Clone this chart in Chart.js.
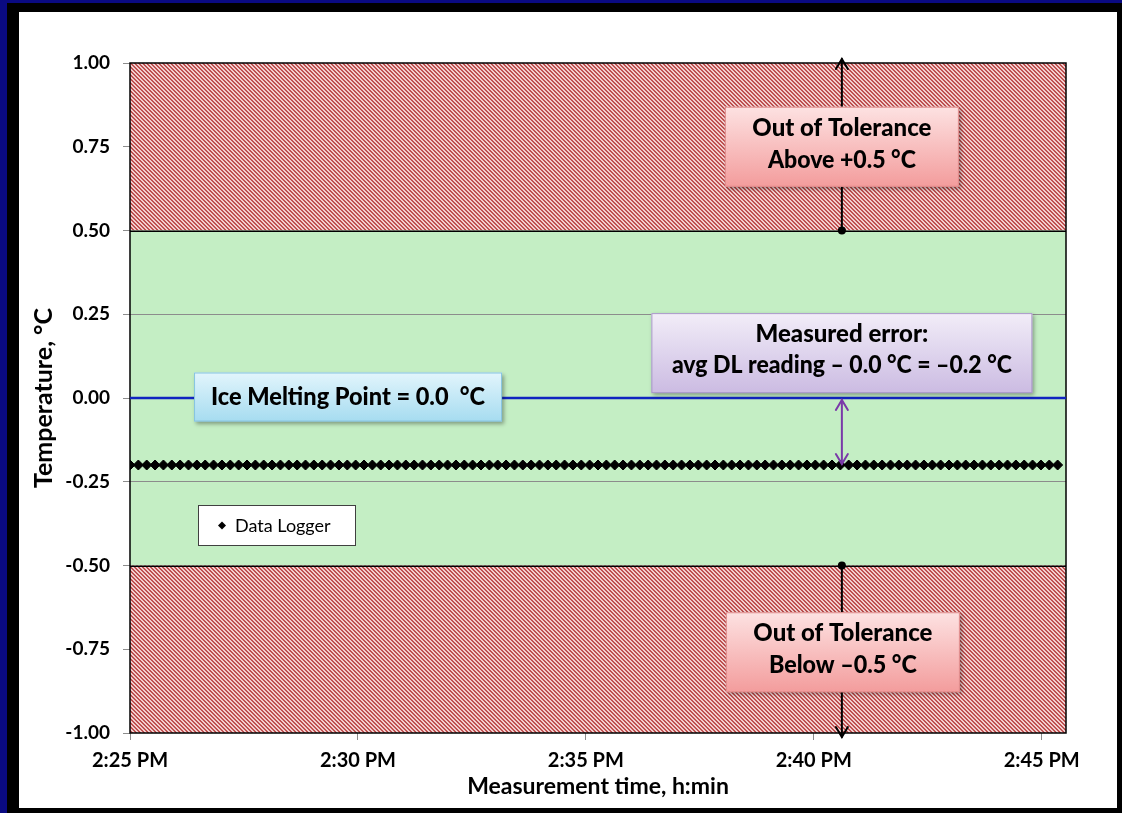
<!DOCTYPE html>
<html lang="en">
<head>
<meta charset="UTF-8">
<title>Data Logger vs Ice Melting Point</title>
<script src="https://cdn.jsdelivr.net/npm/chart.js"></script>
<style>
  html, body { margin: 0; padding: 0; }
  body { width: 1122px; height: 813px; background: #0a0a82; position: relative; overflow: hidden; }
  .frame { position: absolute; left: 7px; top: 3px; width: 1115px; height: 810px; background: #000; }
  .panel { position: absolute; left: 19px; top: 12px; width: 1098px; height: 796px; background: #fff; }
</style>
</head>
<body>
<div class="frame"></div>
<div class="panel"><canvas id="chart" width="1098" height="796"></canvas></div>
<script>
// time axis: seconds after 2:25:00 PM
const startSec = 14 * 3600 + 25 * 60;
const xMax = 1232;
const xTickSec = [0, 300, 600, 900, 1200];
const yTicks = [1.0, 0.75, 0.5, 0.25, 0.0, -0.25, -0.5, -0.75, -1.0];

// data logger readings
const loggerSec = [
  0, 11, 22, 33, 44, 55, 66, 77, 88, 99,
  110, 121, 132, 143, 154, 165, 176, 187, 198, 209,
  220, 231, 242, 253, 264, 275, 286, 297, 308, 319,
  330, 341, 352, 363, 374, 385, 396, 407, 418, 429,
  440, 451, 462, 473, 484, 495, 506, 517, 528, 539,
  550, 561, 572, 583, 594, 605, 616, 627, 638, 649,
  660, 671, 682, 693, 704, 715, 726, 737, 748, 759,
  770, 781, 792, 803, 814, 825, 836, 847, 858, 869,
  880, 891, 902, 913, 924, 935, 946, 957, 968, 979,
  990, 1001, 1012, 1023, 1034, 1045, 1056, 1067, 1078, 1089,
  1100, 1111, 1122, 1133, 1144, 1155, 1166, 1177, 1188, 1199,
  1210, 1221
];
const loggerTemp = [
  -0.2, -0.2, -0.2, -0.2, -0.2, -0.2, -0.2, -0.2, -0.2, -0.2,
  -0.2, -0.2, -0.2, -0.2, -0.2, -0.2, -0.2, -0.2, -0.2, -0.2,
  -0.2, -0.2, -0.2, -0.2, -0.2, -0.2, -0.2, -0.2, -0.2, -0.2,
  -0.2, -0.2, -0.2, -0.2, -0.2, -0.2, -0.2, -0.2, -0.2, -0.2,
  -0.2, -0.2, -0.2, -0.2, -0.2, -0.2, -0.2, -0.2, -0.2, -0.2,
  -0.2, -0.2, -0.2, -0.2, -0.2, -0.2, -0.2, -0.2, -0.2, -0.2,
  -0.2, -0.2, -0.2, -0.2, -0.2, -0.2, -0.2, -0.2, -0.2, -0.2,
  -0.2, -0.2, -0.2, -0.2, -0.2, -0.2, -0.2, -0.2, -0.2, -0.2,
  -0.2, -0.2, -0.2, -0.2, -0.2, -0.2, -0.2, -0.2, -0.2, -0.2,
  -0.2, -0.2, -0.2, -0.2, -0.2, -0.2, -0.2, -0.2, -0.2, -0.2,
  -0.2, -0.2, -0.2, -0.2, -0.2, -0.2, -0.2, -0.2, -0.2, -0.2,
  -0.2, -0.2
];

// reference line
const iceSec = [0, 1232];
const iceTemp = [0.0, 0.0];

// tolerance bands
const bandLow = [0.5, -0.5, -1.0];
const bandHigh = [1.0, 0.5, -0.5];
const bandInside = [false, true, false];

// arrows
const arrowSec = 937;
const upperArrow = [0.5, 1.0];
const lowerArrow = [-0.5, -1.0];
const errorArrow = [0.0, -0.2];

const FONT = 'Lato, "Open Sans", sans-serif';

function formatTime(v) {
  const t = startSec + v;
  let h = Math.floor(t / 3600);
  const m = Math.floor((t % 3600) / 60);
  const suffix = h >= 12 ? 'PM' : 'AM';
  h = h % 12 || 12;
  return h + ':' + String(m).padStart(2, '0') + ' ' + suffix;
}

function hatchPattern(ctx) {
  const tile = document.createElement('canvas');
  tile.width = 4; tile.height = 4;
  const tctx = tile.getContext('2d');
  const img = tctx.createImageData(4, 4);
  for (let y = 0; y < 4; y++) {
    for (let x = 0; x < 4; x++) {
      const dark = ((x - y + 8) % 4) < 2;
      const i = (y * 4 + x) * 4;
      img.data[i] = dark ? 190 : 242;
      img.data[i + 1] = dark ? 80 : 206;
      img.data[i + 2] = dark ? 80 : 206;
      img.data[i + 3] = 255;
    }
  }
  tctx.putImageData(img, 0, 0);
  return ctx.createPattern(tile, 'repeat');
}

function arrowHead(ctx, x, y, dir) {
  // dir = -1 points up, +1 points down
  ctx.beginPath();
  ctx.moveTo(x - 6, y - dir * 10);
  ctx.lineTo(x, y);
  ctx.lineTo(x + 6, y - dir * 10);
  ctx.stroke();
}

function drawBox(ctx, cx, cy, w, h, lines, offsets, widths, top, bottom, border) {
  const x = cx - w / 2, y = cy - h / 2;
  ctx.save();
  const g = ctx.createLinearGradient(0, y, 0, y + h);
  g.addColorStop(0, top);
  g.addColorStop(1, bottom);
  ctx.shadowColor = 'rgba(0,0,0,0.35)';
  ctx.shadowBlur = 4;
  ctx.shadowOffsetX = 2;
  ctx.shadowOffsetY = 2;
  ctx.fillStyle = g;
  ctx.fillRect(x, y, w, h);
  ctx.shadowColor = 'transparent';
  ctx.strokeStyle = border;
  ctx.lineWidth = 1;
  ctx.strokeRect(x + 0.5, y + 0.5, w - 1, h - 1);
  ctx.fillStyle = '#000';
  ctx.font = '900 24px ' + FONT;
  ctx.textAlign = 'center';
  ctx.textBaseline = 'alphabetic';
  lines.forEach((t, i) => ctx.fillText(t, cx, cy + offsets[i], widths[i]));
  ctx.restore();
}

const zonePlugin = {
  id: 'zones',
  beforeDraw(chart) {
    const { ctx, chartArea: a, scales: { y } } = chart;
    ctx.save();
    const pat = hatchPattern(ctx);
    bandLow.forEach((lo, i) => {
      const y1 = y.getPixelForValue(bandHigh[i]);
      const y2 = y.getPixelForValue(lo);
      ctx.fillStyle = bandInside[i] ? '#c4eec4' : pat;
      ctx.fillRect(a.left, y1, a.right - a.left, y2 - y1);
    });
    ctx.restore();
  },
  beforeDatasetsDraw(chart) {
    const { ctx, chartArea: a, scales: { y } } = chart;
    ctx.save();
    ctx.strokeStyle = '#000';
    ctx.lineWidth = 1.5;
    [0.5, -0.5].forEach(v => {
      const py = Math.round(y.getPixelForValue(v)) + 0.25;
      ctx.beginPath();
      ctx.moveTo(a.left, py);
      ctx.lineTo(a.right, py);
      ctx.stroke();
    });
    ctx.strokeRect(a.left, a.top, a.right - a.left, a.bottom - a.top);
    ctx.restore();
  },
  afterDatasetsDraw(chart) {
    const { ctx, chartArea: a, scales: { x, y } } = chart;
    const ax = x.getPixelForValue(arrowSec);
    ctx.save();
    ctx.lineCap = 'round';
    // tolerance arrows
    ctx.strokeStyle = '#000';
    ctx.fillStyle = '#000';
    ctx.lineWidth = 2;
    [upperArrow, lowerArrow].forEach(seg => {
      const y1 = y.getPixelForValue(seg[0]);
      const y2 = y.getPixelForValue(seg[1]);
      const dir = y2 > y1 ? 1 : -1;
      ctx.beginPath();
      ctx.moveTo(ax, y1);
      ctx.lineTo(ax, y2 + dir * 4);
      ctx.stroke();
      arrowHead(ctx, ax, y2 + dir * 4, dir);
      ctx.beginPath();
      ctx.arc(ax, y1, 4, 0, Math.PI * 2);
      ctx.fill();
    });
    // error arrow
    ctx.strokeStyle = '#7a3aa8';
    const e1 = y.getPixelForValue(errorArrow[0]) + 2;
    const e2 = y.getPixelForValue(errorArrow[1]) - 1;
    ctx.beginPath();
    ctx.moveTo(ax, e1);
    ctx.lineTo(ax, e2);
    ctx.stroke();
    arrowHead(ctx, ax, e1, -1);
    arrowHead(ctx, ax, e2, 1);

    // callouts
    const pink = ['#fde2e2', '#f39c9c', '#e08a8a'];
    drawBox(ctx, ax, y.getPixelForValue(0.75), 234, 80,
      ['Out of Tolerance', 'Above +0.5 \u00b0C'], [-11, 21], [180, 148], pink[0], pink[1], pink[2]);
    drawBox(ctx, ax + 1, y.getPixelForValue(-0.75) + 3, 234, 80,
      ['Out of Tolerance', 'Below \u20130.5 \u00b0C'], [-11, 21], [180, 148], pink[0], pink[1], pink[2]);
    drawBox(ctx, ax, y.getPixelForValue(0.134), 381, 80,
      ['Measured error:', 'avg DL reading \u2013 0.0 \u00b0C = \u20130.2 \u00b0C'], [-11, 20], [178, 340],
      '#f2edf8', '#cbbbe2', '#a898c8');
    drawBox(ctx, x.getPixelForValue(287), y.getPixelForValue(0) - 1, 308, 49,
      ['Ice Melting Point = 0.0  \u00b0C'], [8], [274], '#e2f5fc', '#a6dcf0', '#86c4e0');

    // legend
    const lx = a.left + 68, ly = a.top + 442;
    ctx.fillStyle = '#fff';
    ctx.fillRect(lx, ly, 158, 41);
    ctx.strokeStyle = '#404040';
    ctx.lineWidth = 1;
    ctx.strokeRect(lx + 0.5, ly + 0.5, 157, 40);
    ctx.fillStyle = '#000';
    ctx.beginPath();
    const dx = lx + 24, dy = ly + 20.5;
    ctx.moveTo(dx, dy - 4); ctx.lineTo(dx + 4, dy); ctx.lineTo(dx, dy + 4); ctx.lineTo(dx - 4, dy);
    ctx.closePath();
    ctx.fill();
    ctx.font = '18px ' + FONT;
    ctx.textBaseline = 'middle';
    ctx.textAlign = 'left';
    ctx.fillText(chart.data.datasets[1].label, lx + 37, dy + 1, 110);
    ctx.restore();
  }
};

new Chart(document.getElementById('chart'), {
  type: 'scatter',
  data: {
    datasets: [
      {
        label: 'Ice Melting Point',
        data: iceSec.map((s, i) => ({ x: s, y: iceTemp[i] })),
        showLine: true,
        borderColor: '#1024c0',
        borderWidth: 2.5,
        pointRadius: 0
      },
      {
        label: 'Data Logger',
        data: loggerSec.map((s, i) => ({ x: s, y: loggerTemp[i] })),
        pointStyle: 'rectRot',
        pointRadius: 5,
        backgroundColor: '#000',
        borderColor: '#000',
        borderWidth: 1
      }
    ]
  },
  options: {
    responsive: false,
    animation: false,
    layout: { padding: { top: 51, right: 51, left: 0, bottom: 0 } },
    plugins: { legend: { display: false }, tooltip: { enabled: false } },
    scales: {
      x: {
        type: 'linear',
        min: 0,
        max: xMax,
        afterBuildTicks: axis => { axis.ticks = xTickSec.map(v => ({ value: v })); },
        afterFit: axis => { axis.height = 75; },
        border: { display: false },
        grid: { drawOnChartArea: false, tickLength: 7, tickColor: '#8c8c8c' },
        ticks: {
          color: '#000',
          font: { family: FONT, size: 20, weight: 'bold' },
          padding: 9,
          maxRotation: 0,
          callback: v => formatTime(v)
        },
        title: {
          display: true,
          text: 'Measurement time, h:min',
          color: '#000',
          font: { family: FONT, size: 23, weight: 'bold' },
          padding: { top: 0, bottom: 8 }
        }
      },
      y: {
        min: -1,
        max: 1,
        afterBuildTicks: axis => { axis.ticks = yTicks.map(v => ({ value: v })); },
        afterFit: axis => { axis.width = 111; },
        border: { display: false },
        grid: {
          tickLength: 7,
          tickColor: '#8c8c8c',
          color: c => (Math.abs(c.tick.value) < 0.49 && c.tick.value !== 0) ? '#8c8c8c' : 'rgba(0,0,0,0)'
        },
        ticks: {
          color: '#000',
          font: { family: FONT, size: 19, weight: 'bold' },
          padding: 13,
          callback: v => v.toFixed(2)
        },
        title: {
          display: true,
          text: 'Temperature, \u00b0C',
          color: '#000',
          font: { family: FONT, size: 25, weight: 'bold' },
          padding: { top: 10, bottom: 0 }
        }
      }
    }
  },
  plugins: [zonePlugin]
});
</script>
</body>
</html>
